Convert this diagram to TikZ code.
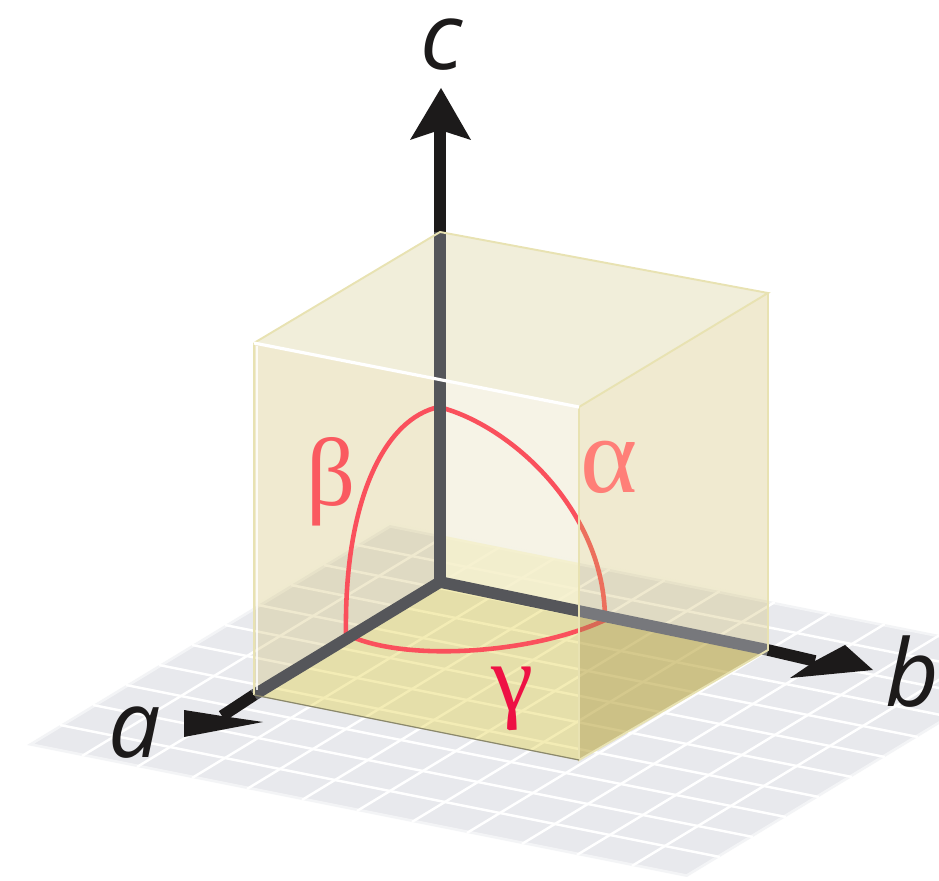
\documentclass[tikz,border=0pt]{standalone}
\usepackage{fontspec}
\setmainfont{Open Sans}
\newfontfamily\greekfont{Liberation Serif}
\definecolor{GridGrey}{RGB}{232, 233, 237}
\definecolor{WallTan}{RGB}{205, 185, 98}
\definecolor{FloorGold}{RGB}{225, 208, 70}
\definecolor{TopCream}{RGB}{241, 238, 218}
\definecolor{PaleCream}{RGB}{243, 239, 222}
\definecolor{EdgeGold}{RGB}{232, 226, 178}
\definecolor{AxisDark}{RGB}{85, 86, 90}
\definecolor{AxisGrey}{RGB}{119, 120, 124}
\definecolor{AxisBlack}{RGB}{28, 26, 26}
\definecolor{ArcRed}{RGB}{250, 80, 92}
\definecolor{BetaRed}{RGB}{250, 90, 96}
\definecolor{AlphaRed}{RGB}{255, 127, 120}
\definecolor{GammaRed}{RGB}{238, 17, 68}

\begin{document}
\begin{tikzpicture}[x=0.02cm, y=-0.02cm]
    \tikzstyle{gridline} = [white, line width=1.4pt]
    \tikzstyle{wall} = [fill=WallTan, fill opacity=0.3]
    \tikzstyle{edge} = [EdgeGold, line width=1.1pt]
    \tikzstyle{stem} = [line width=6.6pt]
    \tikzstyle{arc} = [ArcRed, line width=2.6pt]
    \tikzstyle{axislabel} = [font=\fontsize{53}{60}\selectfont\itshape, text=AxisBlack, inner sep=0pt]
    \tikzstyle{anglelabel} = [font=\fontsize{62}{66}\selectfont\greekfont, inner sep=0pt]

    \useasboundingbox (0,0) rectangle (939,881);

    % cube corners
    \coordinate (o) at (440,582);
    \coordinate (topback) at (440,232);
    \coordinate (topleft) at (254,343);
    \coordinate (topfront) at (579,407);
    \coordinate (topright) at (768,293);
    \coordinate (botleft) at (254,695);
    \coordinate (botfront) at (579,760);
    \coordinate (botright) at (768,650);

    % axis points
    \coordinate (topmid) at (440,379);
    \coordinate (bfront) at (579,611);
    \coordinate (ctip) at (441,88);
    \coordinate (cwingl) at (410,140);
    \coordinate (cwingr) at (471,140);
    \coordinate (cnotch) at (440,130);
    \coordinate (atip) at (184,737);
    \coordinate (awingl) at (184,710);
    \coordinate (awingr) at (263,722);
    \coordinate (anotch) at (222,716);
    \coordinate (btip) at (873,670);
    \coordinate (bwingl) at (845,645);
    \coordinate (bwingr) at (790,678);
    \coordinate (bnotch) at (815,661);

    % arc ends
    \coordinate (arctop) at (439,407);
    \coordinate (arcleft) at (346,634);
    \coordinate (arcright) at (605,620);

    % floor grid
    \begin{scope}
      \clip (0,0) rectangle (939,881);
      \begin{scope}[shift={(27,745)}, x={(1.1cm,-0.22cm)}, y={(0.66cm,0.4cm)}]
        \fill [GridGrey] (0,0) -- (12,0) -- (12,11) -- (0,11) -- cycle;
        \foreach \i in {1,...,11}
          \draw [gridline] (\i,0) -- (\i,11);
        \foreach \j in {1,...,10}
          \draw [gridline] (0,\j) -- (12,\j);
        \draw [white, line width=3pt, opacity=0.5] (0,0) -- (12,0) -- (12,11) -- (0,11) -- cycle;
      \end{scope}
    \end{scope}

    % faces behind the axes
    \fill [wall] (topback) -- (topleft) -- (botleft) -- (o) -- cycle;
    \fill [PaleCream, fill opacity=0.75] (topmid) -- (topfront) -- (bfront) -- (o) -- cycle;
    \fill [yellow!25!PaleCream, fill opacity=0.35] (440,535) -- (579,563) -- (bfront) -- (o) -- cycle;
    \fill [TopCream] (topleft) -- (topback) -- (topright) -- (topfront) -- cycle;
    \fill [FloorGold, fill opacity=0.4] (o) -- (botleft) -- (botfront) -- (botright) -- cycle;

    % angle arcs
    \draw [arc] (arctop) .. controls (385,418) and (344,500) .. (arcleft);
    \draw [arc] (arctop) .. controls (510,425) and (605,510) .. (arcright);
    \draw [arc] (arcleft) .. controls (400,662) and (530,655) .. (arcright);

    % right face
    \fill [wall] (topfront) -- (topright) -- (botright) -- (botfront) -- cycle;
    \fill [black!70!brown, fill opacity=0.1] (bfront) -- (botright) -- (botfront) -- cycle;

    % axes
    \draw [stem, AxisDark] (o) -- (topback);
    \draw [stem, AxisBlack] (topback) -- (cnotch);
    \fill [AxisBlack] (ctip) -- (cwingr) -- (cnotch) -- (cwingl) -- cycle;
    \draw [stem, AxisDark] (o) -- (botleft);
    \draw [stem, AxisBlack] (botleft) -- (anotch);
    \fill [AxisBlack] (atip) -- (awingl) -- (anotch) -- (awingr) -- cycle;
    \draw [stem, AxisDark] (o) -- (bfront);
    \draw [stem, AxisGrey] (bfront) -- (botright);
    \draw [stem, AxisBlack] (botright) -- (bnotch);
    \fill [AxisBlack] (btip) -- (bwingl) -- (bnotch) -- (bwingr) -- cycle;

    % cube edges
    \draw [edge] (topleft) -- (topback) -- (topright) -- (topfront);
    \draw [edge] (topright) -- (botright) -- (botfront) -- (topfront);
    \draw [edge] (topleft) -- (botleft);
    \draw [white, line width=1.4pt, opacity=0.8] (257,346) -- (257,690);
    \draw [white, line width=1.8pt] (topleft) -- (topfront);
    \draw [black!40!EdgeGold, line width=0.7pt] (botleft) -- (botfront);

    % labels
    \node [axislabel] (labelc) at (442,45) {c};
    \node [axislabel] (labela) at (135,733) {a};
    \node [axislabel] (labelb) at (912,672) {b};
    \node [anglelabel, font=\fontsize{55}{60}\selectfont\greekfont, text=BetaRed] (labelbeta) at (331,482) {β};
    \node [anglelabel, text=AlphaRed] (labelalpha) at (609,467) {α};
    \node [anglelabel, font=\fontsize{54}{60}\selectfont\greekfont, text=GammaRed] (labelgamma) at (512,699) {γ};
\end{tikzpicture}
\end{document}
